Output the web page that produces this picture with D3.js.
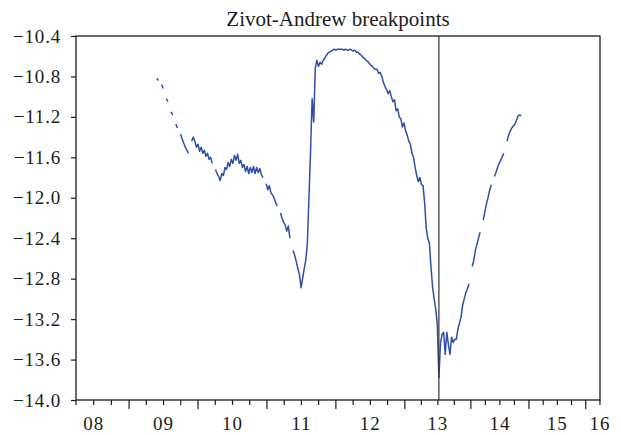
<!DOCTYPE html>
<html>
<head>
<meta charset="utf-8">
<script src="https://cdn.jsdelivr.net/npm/d3@7/dist/d3.min.js"></script>
<style>
	body { margin: 0; background: #fff; }
	svg { display: block; }
</style>
</head>
<body>
<svg id="chart"></svg>
<script>
// Zivot-Andrew breakpoint statistic, observation-based date axis

const chartTitle = "Zivot-Andrew breakpoints";

// axis years and how many observations each year holds
const yearLabels = ["08", "09", "10", "11", "12", "13", "14", "15", "16"];
const yearObs = [268, 261, 261, 261, 261, 250, 220, 215, 215];
const sampleStart = 67;
const sampleEnd = 2051;

const yTicks = [-14.0, -13.6, -13.2, -12.8, -12.4, -12.0, -11.6, -11.2, -10.8, -10.4];

// series: first observation, spacing, values (null = missing)
const seriesStart = 373;
const seriesStep = 6;
const values2008 = [
	-10.82, -10.84, null, -10.88, -10.92, null, -11.02, -11.05, null, -11.15, -11.18,
	null, -11.27, -11.31, null, -11.37, -11.42, -11.46, -11.5, -11.53, -11.56, null,
];
const values2009 = [
	-11.44, -11.4, -11.44, -11.5, -11.47, -11.54, -11.5, -11.56, -11.53, -11.59,
	-11.56, -11.62, -11.6, -11.66, null, -11.72, -11.76, -11.79, -11.83, -11.76,
	-11.78, -11.7, -11.72, -11.65, -11.69, -11.62, -11.66, -11.58, -11.63, -11.57,
	-11.66, -11.63, -11.7, -11.67, -11.74, -11.69, -11.76, -11.7, -11.75, -11.69,
	-11.76, -11.7, -11.75, -11.71, -11.77,
];
const values2010 = [
	-11.8, null, -11.86, -11.92, -11.88, -11.95, -11.97, -12.0, -12.05, -12.08, null,
	-12.15, -12.2, -12.24, -12.27, -12.33, -12.28, -12.4, null, -12.52, -12.57, -12.63,
	-12.7, -12.76, -12.89, -12.8, -12.7, -12.62, -12.45, -12.0, -11.55, -11.02,
	-11.25, -10.72,
];
const values2011 = [
	-10.64, -10.7, -10.66, -10.68, -10.64, -10.62, -10.59, -10.57, -10.56, -10.55,
	-10.54, -10.53, -10.54, -10.53, -10.53, -10.53, -10.53, -10.54, -10.53, -10.54,
	-10.54, -10.53, -10.54, -10.55, -10.54, -10.56, -10.56, -10.58, -10.59, -10.61,
	-10.62, -10.64, -10.65, -10.67, -10.69, -10.7, -10.72, -10.73, -10.73, -10.77,
	-10.76, -10.8, -10.86, -10.9, -10.93, -10.97, -10.94, -11.0, -11.05, -11.03,
	-11.14, -11.12, -11.2, -11.22, -11.3, -11.26, -11.34, -11.38, -11.44, -11.47,
	-11.56, -11.6, -11.7, -11.78, -11.84, -11.8, -11.87, -11.88, -12.05, -12.3,
	-12.4, -12.45, -12.68, -12.88, -13.0, -13.1, -13.25, -13.78,
];
const values2013 = [
	-13.44, -13.35, -13.33, -13.55, -13.33, -13.45, -13.55, -13.38, -13.43, -13.4,
	-13.4, -13.3, -13.24, -13.18, -13.06, -13.0, -12.94, -12.9, -12.85, null,
	-12.68, -12.62, -12.52, -12.46, -12.4, -12.34, null, -12.22, -12.14, -12.06, -12.0,
	-11.93, -11.87, null, -11.79, -11.75, -11.7, -11.66, -11.63, -11.59, -11.56, null,
	-11.44, -11.38, -11.34, -11.31, -11.29, -11.27, -11.23, -11.19, -11.18, -11.19,
];
const breakpointObs = 1441;

const values = [...values2008, ...values2009, ...values2010, ...values2011, ...values2013];
const series = values.map((v, i) => ({ obs: seriesStart + i * seriesStep, v }));

const width = 621;
const height = 435;
const margin = { top: 36, right: 21, bottom: 35, left: 76 };
const innerW = width - margin.left - margin.right;
const innerH = height - margin.top - margin.bottom;

const serif = "'Liberation Serif', 'DejaVu Serif', serif";
const ink = "#1c1c1c";

const svg = d3.select("#chart").attr("width", width).attr("height", height);

const x = d3.scaleLinear().domain([sampleStart, sampleEnd]).range([margin.left, margin.left + innerW]);
const y = d3.scaleLinear().domain([-14.0, -10.4]).range([margin.top + innerH, margin.top]);

// title
svg
	.append("text")
	.attr("x", margin.left + innerW / 2)
	.attr("y", 26)
	.attr("text-anchor", "middle")
	.style("font-family", serif)
	.style("font-size", "21px")
	.style("fill", ink)
	.text(chartTitle);

// y axis (ticks only, frame drawn separately)
const yAxis = d3
	.axisLeft(y)
	.tickValues(yTicks)
	.tickSize(5)
	.tickPadding(10)
	.tickFormat((d) => (d < 0 ? "\u2212" : "") + Math.abs(d).toFixed(1));

const gy = svg.append("g").attr("transform", `translate(${margin.left},0)`).call(yAxis);
gy.select(".domain").remove();
gy.selectAll("line").attr("stroke", ink).attr("stroke-width", 1.2);
gy.selectAll("text")
	.style("font-family", serif)
	.style("font-size", "19px")
	.style("letter-spacing", "0.8px")
	.style("fill", ink);

// x axis: year boundaries (major), quarters (minor), labels at mid-year
let acc = 0;
const yearStarts = yearObs.map((n) => {
	const s = acc;
	acc += n;
	return s;
});

const inSample = (o) => o >= sampleStart - 0.5 && o <= sampleEnd + 0.5;
const xTicks = [];
yearStarts.forEach((s, i) => {
	if (inSample(s)) xTicks.push({ obs: s, major: true });
	for (let k = 1; k < 4; k++) {
		const q = s + (k * yearObs[i]) / 4;
		if (inSample(q)) xTicks.push({ obs: q, major: false });
	}
});

const axisY = margin.top + innerH;
const gx = svg.append("g");

gx.selectAll("line")
	.data(xTicks)
	.enter()
	.append("line")
	.attr("x1", (d) => x(d.obs))
	.attr("x2", (d) => x(d.obs))
	.attr("y1", axisY)
	.attr("y2", (d) => axisY + (d.major ? 9 : 5))
	.attr("stroke", ink)
	.attr("stroke-width", 1.2);

gx.selectAll("text")
	.data(yearLabels)
	.enter()
	.append("text")
	.attr("x", (d, i) => {
		const mid = yearStarts[i] + yearObs[i] / 2;
		return x(Math.max(sampleStart, Math.min(sampleEnd, mid)));
	})
	.attr("y", axisY + 30)
	.attr("text-anchor", "middle")
	.style("font-family", serif)
	.style("font-size", "19px")
	.style("letter-spacing", "1px")
	.style("fill", ink)
	.text((d) => d);

// series line
const line = d3
	.line()
	.defined((d) => d.v != null)
	.x((d) => x(d.obs))
	.y((d) => y(d.v));

svg
	.append("path")
	.datum(series)
	.attr("d", line)
	.style("fill", "none")
	.style("stroke", "#2f4fa6")
	.style("stroke-width", "1.5px")
	.style("stroke-linejoin", "round");

// breakpoint marker
svg
	.append("line")
	.attr("x1", x(breakpointObs))
	.attr("x2", x(breakpointObs))
	.attr("y1", margin.top)
	.attr("y2", axisY)
	.attr("stroke", "#333")
	.attr("stroke-width", 1.2);

// frame
svg
	.append("rect")
	.attr("x", margin.left)
	.attr("y", margin.top)
	.attr("width", innerW)
	.attr("height", innerH)
	.style("fill", "none")
	.style("stroke", ink)
	.style("stroke-width", "1.3px");
</script>
</body>
</html>
